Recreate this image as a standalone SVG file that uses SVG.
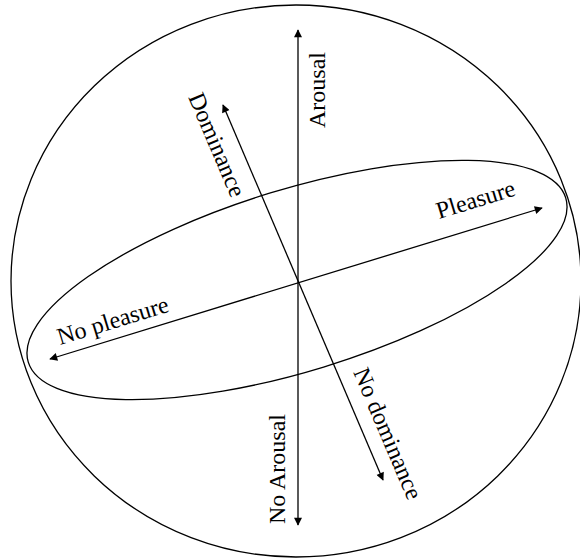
<svg xmlns="http://www.w3.org/2000/svg" width="580" height="559" viewBox="0 0 580 559">
<style>
.shape{fill:none;stroke:#000;stroke-width:1.3}
.axis{fill:none;stroke:#000;stroke-width:1.3;marker-start:url(#ah);marker-end:url(#ah)}
.lbl{font-family:"Liberation Serif","Times New Roman",serif;font-size:24px;fill:#000}
</style>
<defs>
<marker id="ah" viewBox="0 0 10 10" refX="9" refY="5" markerWidth="10" markerHeight="8" markerUnits="userSpaceOnUse" orient="auto-start-reverse">
<path d="M0,0 L10,5 L0,10 z" fill="#000"/>
</marker>
</defs>
<g id="sphere">
<ellipse class="shape" cx="296" cy="281" rx="285" ry="276"/>
</g>
<g id="plane">
<ellipse class="shape" cx="297" cy="280" rx="281" ry="91" transform="rotate(-17 297 280)"/>
</g>
<g id="connectors">
<line id="arousal-axis" class="axis" x1="298" y1="525" x2="298" y2="30"/>
<line id="dominance-axis" class="axis" x1="383" y1="480" x2="223" y2="105"/>
<line id="pleasure-axis" class="axis" x1="50" y1="359" x2="542" y2="208"/>
</g>
<g id="labels">
<text id="arousal" class="lbl" transform="translate(325,128) rotate(-90)">Arousal</text>
<text id="no-arousal" class="lbl" transform="translate(285,524) rotate(-90)">No Arousal</text>
<text id="dominance" class="lbl" transform="translate(188,97) rotate(66.9)">Dominance</text>
<text id="no-dominance" class="lbl" transform="translate(353,372) rotate(66.9)">No dominance</text>
<text id="pleasure" class="lbl" transform="translate(439,219) rotate(-17)">Pleasure</text>
<text id="no-pleasure" class="lbl" transform="translate(60,345) rotate(-17)">No pleasure</text>
</g>
</svg>
